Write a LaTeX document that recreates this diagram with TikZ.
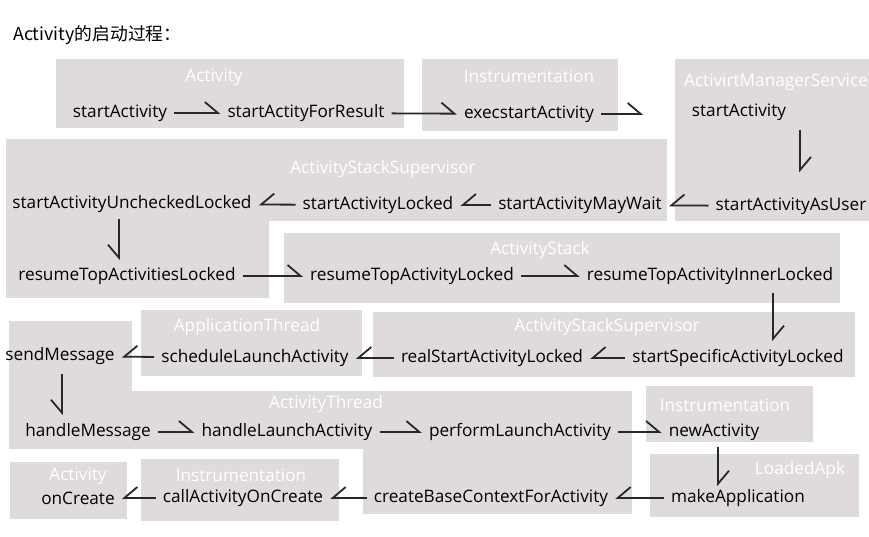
\documentclass[tikz,border=0pt]{standalone}
\usepackage{fontspec}
\setmainfont{Open Sans}
\newfontfamily\cjk{Noto Sans CJK SC}
\usetikzlibrary{arrows.meta,calc}
\definecolor{boxgray}{RGB}{222,219,218}
\definecolor{arrowgray}{RGB}{40,40,40}
\tikzstyle{method} = [inner xsep=7pt, inner ysep=2pt, text=black]
\tikzstyle{owner}  = [text=white, inner sep=0pt]
\tikzstyle{fwd}    = [line width=1.8pt, draw=arrowgray, -{Straight Barb[harpoon,length=13pt,width=22pt]}]
\tikzstyle{back}   = [line width=1.8pt, draw=arrowgray, -{Straight Barb[harpoon,swap,length=13pt,width=22pt]}]

\begin{document}
\begin{tikzpicture}[x=1pt, y=-1pt, font=\fontsize{17.2pt}{20pt}\selectfont,
		panel/.style={fill=boxgray, draw=none}]
	\useasboundingbox (0,0) rectangle (869,537);

	% grey panels
	\fill[panel] (56,59) rectangle (404,128);
	\fill[panel] (422,59) rectangle (618,131);
	\fill[panel] (675,59) rectangle (869,221);
	\fill[panel] (6,139) rectangle (667,221);
	\fill[panel] (6,220) rectangle (269,298);
	\fill[panel] (284,233) rectangle (840,303);
	\fill[panel] (141,310) rectangle (362,376);
	\fill[panel] (373,312) rectangle (855,377);
	\fill[panel] (9,321) rectangle (132,449);
	\fill[panel] (131,391) rectangle (632,449);
	\fill[panel] (363,448) rectangle (632,514);
	\fill[panel] (646,386) rectangle (813,442);
	\fill[panel] (650,454) rectangle (859,517);
	\fill[panel] (10,462) rectangle (127,519);
	\fill[panel] (141,459) rectangle (339,521);

	\node[anchor=west, inner sep=0pt, font=\fontsize{17.8pt}{20pt}\selectfont] (heading) at (13,35) {\cjk Activity的启动过程：};

	% class names
	\node[owner] (cActivity) at (214,77) {Activity};
	\node[owner] (cInstr) at (529,76) {Instrumentation};
	\node[owner] (cAms) at (776,82) {ActivirtManagerService};
	\node[owner] (cSupA) at (383,169) {ActivityStackSupervisor};
	\node[owner] (cStack) at (540,250) {ActivityStack};
	\node[owner] (cAppThread) at (247,327) {ApplicationThread};
	\node[owner] (cSupB) at (607,327) {ActivityStackSupervisor};
	\node[owner] (cThread) at (326,404) {ActivityThread};
	\node[owner] (cInstrB) at (725,405) {Instrumentation};
	\node[owner] (cApk) at (800,470) {LoadedApk};
	\node[owner] (cActivityB) at (78,476) {Activity};
	\node[owner] (cInstrC) at (241,475) {Instrumentation};

	% methods
	\node[method] (startAct) at (120,113) {startActivity};
	\node[method] (forResult) at (306,113) {startActityForResult};
	\node[method] (execStart) at (529,114) {execstartActivity};
	\node[method] (amsStart) at (739,112) {startActivity};
	\node[method] (asUser) at (791,206) {startActivityAsUser};
	\node[method] (mayWait) at (580,205) {startActivityMayWait};
	\node[method] (locked) at (378,205) {startActivityLocked};
	\node[method] (unchecked) at (132,204) {startActivityUncheckedLocked};
	\node[method] (topsLocked) at (127,276) {resumeTopActivitiesLocked};
	\node[method] (topLocked) at (412,276) {resumeTopActivityLocked};
	\node[method] (innerLocked) at (710,276) {resumeTopActivityInnerLocked};
	\node[method] (specific) at (738,358) {startSpecificActivityLocked};
	\node[method] (realStart) at (492,358) {realStartActivityLocked};
	\node[method] (schedule) at (255,358) {scheduleLaunchActivity};
	\node[method] (sendMsg) at (60,356) {sendMessage};
	\node[method] (handleMsg) at (88,432) {handleMessage};
	\node[method] (handleLaunch) at (287,432) {handleLaunchActivity};
	\node[method] (perform) at (520,432) {performLaunchActivity};
	\node[method] (newAct) at (714,432) {newActivity};
	\node[method] (makeApp) at (738,498) {makeApplication};
	\node[method] (baseCtx) at (491,498) {createBaseContextForActivity};
	\node[method] (callCreate) at (243,498) {callActivityOnCreate};
	\node[method] (onCreate) at (78,498) {onCreate};

	% calls
	\draw[fwd] (startAct) -- (forResult);
	\draw[fwd] (forResult) -- (execStart);
	\draw[fwd] (execStart.east) -- ++(42,0);
	\draw[fwd, shorten <=7pt, shorten >=23pt] ($(amsStart.south -| asUser.north)+(9,0)$) -- ($(asUser.north)+(9,0)$);
	\draw[back] (asUser) -- (mayWait);
	\draw[back] (mayWait) -- (locked);
	\draw[back] (locked) -- (unchecked);
	\draw[back, shorten <=4pt, shorten >=5pt] ($(unchecked.south -| topsLocked.north)+(-8,0)$) -- ($(topsLocked.north)+(-8,0)$);
	\draw[fwd] (topsLocked) -- (topLocked);
	\draw[fwd] (topLocked) -- (innerLocked);
	\draw[fwd, shorten <=6pt, shorten >=6pt] ($(innerLocked.south -| specific.north)+(35,0)$) -- ($(specific.north)+(35,0)$);
	\draw[back] (specific) -- (realStart);
	\draw[back] (realStart) -- (schedule);
	\draw[back] (schedule) -- (sendMsg);
	\draw[back, shorten <=7pt, shorten >=6pt] ($(sendMsg.south)+(2,0)$) -- ($(handleMsg.north -| sendMsg.south)+(2,0)$);
	\draw[fwd] (handleMsg) -- (handleLaunch);
	\draw[fwd] (handleLaunch) -- (perform);
	\draw[fwd] (perform) -- (newAct);
	\draw[fwd, shorten <=4pt, shorten >=1pt] ($(newAct.south)+(4,0)$) -- ($(makeApp.north -| newAct.south)+(4,0)$);
	\draw[back] (makeApp) -- (baseCtx);
	\draw[back] (baseCtx) -- (callCreate);
	\draw[back] (callCreate) -- (onCreate);
\end{tikzpicture}
\end{document}
